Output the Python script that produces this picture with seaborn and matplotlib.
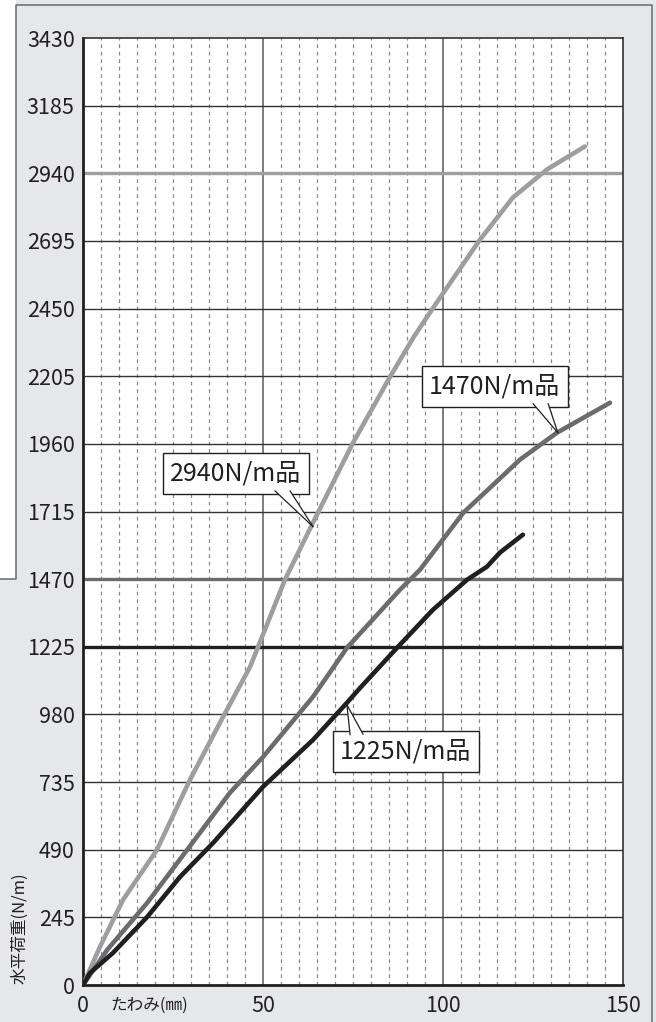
import matplotlib
matplotlib.use("Agg")
import matplotlib.pyplot as plt
from matplotlib.patches import Rectangle, Polygon
from matplotlib.lines import Line2D
import pandas as pd
import seaborn as sns

# --- data (たわみ mm, 水平荷重 N/m) ---
x_2940 = [0, 4.7, 11.1, 20.5, 29.7, 38.9, 46.4, 56.1, 63.6, 75.0, 85.3, 92.0, 99.2, 110.3, 119.4, 128.9, 139.4]
y_2940 = [0, 138, 308, 489, 743, 971, 1152, 1468, 1667, 1964, 2203, 2350, 2490, 2700, 2852, 2954, 3037]

x_1470 = [0, 6.7, 17.8, 28.9, 40.8, 50.0, 63.9, 73.3, 88.0, 93.6, 105.6, 121.4, 131.6, 146.4]
y_1470 = [0, 127, 297, 489, 696, 826, 1044, 1221, 1431, 1504, 1710, 1903, 2000, 2109]

x_1225 = [0, 1.9, 8.3, 17.8, 26.9, 36.1, 50.0, 63.9, 73.3, 76.9, 87.2, 97.2, 106.7, 112.2, 115.8, 122.2]
y_1225 = [0, 43, 116, 246, 391, 514, 718, 888, 1022, 1075, 1221, 1359, 1468, 1515, 1566, 1631]

series = ["2940N/m品", "1470N/m品", "1225N/m品"]
ref_levels = [2940, 1470, 1225]
y_ticks = [0, 245, 490, 735, 980, 1225, 1470, 1715, 1960, 2205, 2450, 2695, 2940, 3185, 3430]
x_ticks = [0, 50, 100, 150]

colors = {"2940N/m品": "#9d9ea0", "1470N/m品": "#6b6c6e", "1225N/m品": "#231f20"}

df = pd.concat([
    pd.DataFrame({"x": x_2940, "y": y_2940, "s": series[0]}),
    pd.DataFrame({"x": x_1470, "y": y_1470, "s": series[1]}),
    pd.DataFrame({"x": x_1225, "y": y_1225, "s": series[2]}),
])

sns.set_style("white")
plt.rcParams['font.family'] = ['Noto Sans CJK JP', 'DejaVu Sans']

fig = plt.figure(figsize=(6.56, 10.22), dpi=100)
fig.patch.set_facecolor("#e6e7e9")

# odd frame of the cropped source picture
fig.add_artist(Rectangle((0, 1 - 579 / 1022), 16 / 656, 579 / 1022, transform=fig.transFigure,
                         facecolor="white", edgecolor="none", zorder=0))
fig.add_artist(Line2D([0, 16 / 656, 16 / 656, 652 / 656, 652 / 656],
                      [1 - 579 / 1022, 1 - 579 / 1022, 1 - 5 / 1022, 1 - 5 / 1022, 0],
                      transform=fig.transFigure, color="#6a6a6a", lw=1.1))

ax = fig.add_axes([83 / 656, 37 / 1022, 540 / 656, 947 / 1022])
ax.set_facecolor("white")

ax.set_xlim(0, 150)
ax.set_ylim(0, 3430)

# grid
for xv in range(5, 150, 5):
    if xv % 50 == 0:
        ax.axvline(xv, color="#666666", lw=1.2, zorder=1)
    else:
        ax.axvline(xv, color="#8a8a8a", lw=0.9, ls=(0, (3, 3)), zorder=1)
for yv in y_ticks[1:-1]:
    if yv not in ref_levels:
        ax.axhline(yv, color="#333333", lw=1.0, zorder=1)

for lvl, name in zip(ref_levels, series):
    ax.axhline(lvl, color=colors[name], lw=2.4, zorder=2)

sns.lineplot(data=df, x="x", y="y", hue="s", palette=colors, lw=3.3, legend=False,
             sort=False, ax=ax, zorder=4, solid_capstyle="round", solid_joinstyle="round")

# callout labels
def callout(text, cx, cy, base1, base2, tip):
    ax.text(cx, cy, text, fontsize=18, ha="center", va="center", color="#231f20", zorder=6,
            bbox=dict(boxstyle="square,pad=0.3", fc="white", ec="#231f20", lw=1.0))
    ax.add_patch(Polygon([base1, base2, tip], closed=True, fc="white", ec="none", zorder=7))
    ax.plot([base1[0], tip[0]], [base1[1], tip[1]], color="#231f20", lw=0.9, zorder=7)
    ax.plot([base2[0], tip[0]], [base2[1], tip[1]], color="#231f20", lw=0.9, zorder=7)

callout("2940N/m品", 42.5, 1852, (53.3, 1790), (57.5, 1790), (63.9, 1660))
callout("1470N/m品", 114.4, 2167, (125.0, 2106), (129.2, 2106), (131.9, 2000))
callout("1225N/m品", 89.7, 844, (74.2, 906), (77.8, 908), (73.3, 1015))

ax.set_xticks(x_ticks)
ax.set_yticks(y_ticks)
ax.tick_params(axis="both", length=0, labelsize=15.5, colors="#231f20")
ax.tick_params(axis="y", pad=6)
ax.tick_params(axis="x", pad=7)
ax.set_xlabel("")
ax.set_ylabel("")

for side in ["left", "bottom"]:
    ax.spines[side].set_linewidth(2.0)
    ax.spines[side].set_color("#231f20")
for side in ["top", "right"]:
    ax.spines[side].set_linewidth(1.2)
    ax.spines[side].set_color("#333333")

fig.text(110 / 656, 1 - 1005 / 1022, "たわみ(㎜)", fontsize=12, ha="left", va="center", color="#231f20")
fig.text(20 / 656, 1 - 928 / 1022, "水平荷重(N/m)", fontsize=12, rotation=90, ha="center",
         va="center", color="#231f20")

fig.savefig("out.png", dpi=100, facecolor=fig.get_facecolor())
